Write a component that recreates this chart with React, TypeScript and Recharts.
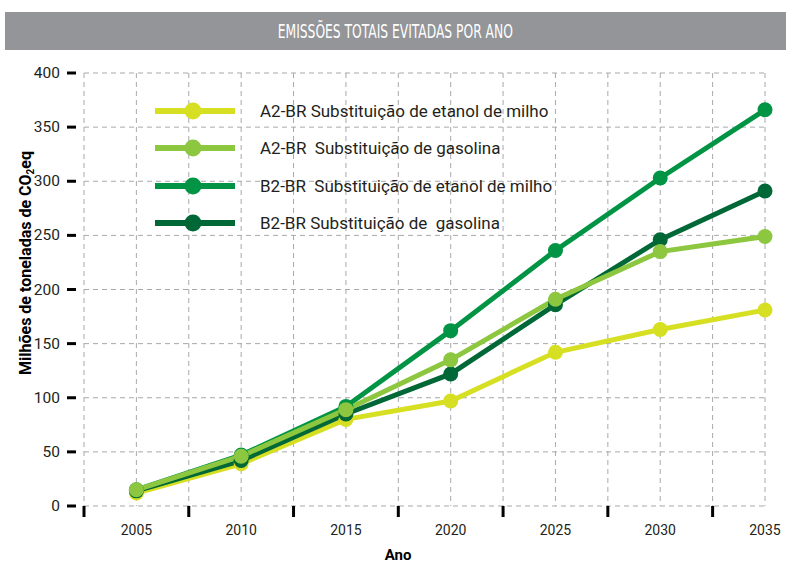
import { LineChart, Line, XAxis, YAxis, CartesianGrid } from "recharts";

const years = [2005, 2010, 2015, 2020, 2025, 2030, 2035];
const a2Etanol = [12, 39, 80, 97, 142, 163, 181];
const a2Gasolina = [15, 46, 89, 135, 191, 235, 249];
const b2Etanol = [15, 47, 92, 162, 236, 303, 366];
const b2Gasolina = [14, 42, 85, 122, 186, 246, 291];

const xTicks = [2002.5, 2005, 2007.5, 2010, 2012.5, 2015, 2017.5, 2020, 2022.5, 2025, 2027.5, 2030, 2032.5, 2035];
const yTicks = [0, 50, 100, 150, 200, 250, 300, 350, 400];

const SERIES = [
  { key: "a2Etanol", label: "A2-BR Substituição de etanol de milho", color: "#d7df23" },
  { key: "a2Gasolina", label: "A2-BR  Substituição de gasolina", color: "#8dc63f" },
  { key: "b2Etanol", label: "B2-BR  Substituição de etanol de milho", color: "#009444" },
  { key: "b2Gasolina", label: "B2-BR Substituição de  gasolina", color: "#006837" },
];

// drawn bottom to top
const DRAW_ORDER = ["a2Etanol", "b2Gasolina", "b2Etanol", "a2Gasolina"];

const data = years.map((year, i) => ({
  year,
  a2Etanol: a2Etanol[i],
  a2Gasolina: a2Gasolina[i],
  b2Etanol: b2Etanol[i],
  b2Gasolina: b2Gasolina[i],
}));

const FONT = "Roboto, 'DejaVu Sans', sans-serif";
const INK = "#231f20";

function XTick({ x, y, payload }: any) {
  const v = payload.value as number;
  if (v % 5 === 0) {
    return (
      <text x={x} y={y + 21} textAnchor="middle" fontFamily={FONT} fontSize={14} fill={INK}>
        {v}
      </text>
    );
  }
  return <line x1={x} x2={x} y1={y - 8} y2={y + 3} stroke="#000" strokeWidth={3} />;
}

function YTick({ x, y, payload }: any) {
  return (
    <g>
      <line x1={x - 9} x2={x} y1={y} y2={y} stroke="#000" strokeWidth={3} />
      <text x={x - 16} y={y + 5} textAnchor="end" fontFamily={FONT} fontSize={15.5} fill={INK}>
        {payload.value}
      </text>
    </g>
  );
}

function XLabel() {
  return (
    <text x={398} y={560} textAnchor="middle" fontFamily={FONT} fontWeight="bold" fontSize={15} fill="#000">
      Ano
    </text>
  );
}

function YLabel() {
  return (
    <text
      transform="rotate(-90, 31, 263)"
      x={31}
      y={263}
      textAnchor="middle"
      fontFamily={FONT}
      fontWeight="bold"
      fontSize={16}
      fill="#000"
    >
      Milhões de toneladas de CO<tspan fontSize={10} dy={3}>2</tspan>
      <tspan dy={-3}>eq</tspan>
    </text>
  );
}

function LegendBox() {
  return (
    <div style={{ position: "absolute", left: 155, top: 92 }}>
      {SERIES.map((s) => (
        <div key={s.key} style={{ display: "flex", alignItems: "center", height: 37.5 }}>
          <svg width={82} height={20} style={{ display: "block" }}>
            <line x1={0} x2={80} y1={10} y2={10} stroke={s.color} strokeWidth={6} />
            <circle cx={38} cy={10} r={8.5} fill={s.color} />
          </svg>
          <span
            style={{
              marginLeft: 23,
              fontFamily: FONT,
              fontSize: 17,
              color: INK,
              whiteSpace: "pre",
            }}
          >
            {s.label}
          </span>
        </div>
      ))}
    </div>
  );
}

export default function App() {
  return (
    <div style={{ position: "absolute", left: 0, top: 0, width: 786, height: 563, background: "#fff" }}>
      <div
        style={{
          position: "absolute",
          left: 5,
          top: 12,
          width: 781,
          height: 38,
          background: "#939598",
          color: "#fff",
          display: "flex",
          alignItems: "center",
          justifyContent: "center",
          fontFamily: "'Liberation Sans Narrow', 'DejaVu Sans Condensed', sans-serif",
          fontSize: 19,
        }}
      >
        <span style={{ display: "inline-block", transform: "scaleX(0.72)", whiteSpace: "nowrap" }}>
          EMISSÕES TOTAIS EVITADAS POR ANO
        </span>
      </div>
      <LineChart
        width={786}
        height={563}
        data={data}
        margin={{ top: 73, right: 21, left: 24, bottom: 27 }}
      >
        <CartesianGrid stroke="#a7a9ac" strokeDasharray="5 4" />
        <XAxis
          dataKey="year"
          type="number"
          domain={[2002.5, 2035]}
          ticks={xTicks}
          interval={0}
          axisLine={false}
          tickLine={false}
          tick={<XTick />}
          height={30}
          label={{ content: <XLabel /> }}
        />
        <YAxis
          type="number"
          domain={[0, 400]}
          ticks={yTicks}
          interval={0}
          axisLine={false}
          tickLine={false}
          tick={<YTick />}
          width={60}
          label={{ content: <YLabel /> }}
        />
        {DRAW_ORDER.map((k) => {
          const s = SERIES.find((x) => x.key === k)!;
          return (
            <Line
              key={k}
              dataKey={k}
              stroke={s.color}
              strokeWidth={5}
              dot={{ r: 7.5, fill: s.color, stroke: s.color, strokeWidth: 0 }}
              activeDot={false}
              isAnimationActive={false}
              type="linear"
            />
          );
        })}
      </LineChart>
      <LegendBox />
    </div>
  );
}
